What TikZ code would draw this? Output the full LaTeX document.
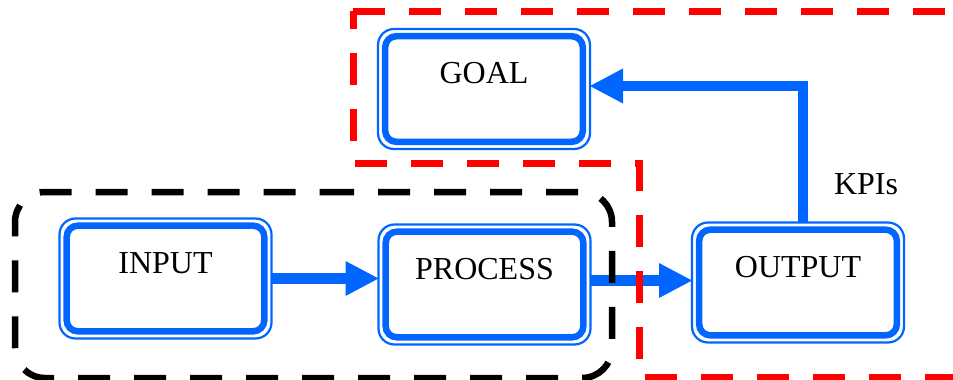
\documentclass[tikz,border=0pt]{standalone}
\usepackage{fontspec}
\setmainfont{Liberation Serif}
\usetikzlibrary{arrows.meta}
\definecolor{bblue}{RGB}{0,102,255}
\definecolor{rred}{RGB}{255,0,0}
\begin{document}
\begin{tikzpicture}[x=1pt,y=-1pt,
  box/.style={draw=bblue, line width=2.2pt, rounded corners=16pt,
    minimum width=212pt, minimum height=120pt, outer sep=0pt, inner sep=0pt,
    font=\fontsize{32}{37}\selectfont, text height=21pt, text depth=32pt},
  innerline/.style={draw=bblue, line width=6.5pt, rounded corners=11pt},
  flow/.style={draw=bblue, line width=10.5pt,
    -{Triangle[length=33pt,width=35pt,line width=0pt]}},
  lbl/.style={font=\fontsize{32}{37}\selectfont, inner sep=0pt},
  blackzone/.style={draw=black, line width=6.5pt, rounded corners=30pt,
    dash pattern=on 32pt off 24pt, dash phase=8pt},
  redzone/.style={draw=rred, line width=7pt, line join=miter,
    dash pattern=on 32pt off 24pt}
]
\useasboundingbox (0,0) rectangle (953,380);

\node[box] (goal) at (484,89) {GOAL};
\node[box] (input) at (165.5,278.5) {INPUT};
\node[box] (process) at (484.5,284.5) {PROCESS};
\node[box] (output) at (798,282.5) {OUTPUT};

\foreach \n in {goal,input,process,output}
  \draw[innerline] ([shift={(7.2pt,-7.2pt)}]\n.north west) rectangle ([shift={(-7.2pt,7.2pt)}]\n.south east);

\draw[flow] (input.east) -- (input.east -| process.west);
\draw[flow] ([yshift=4pt]process.east) -- ([yshift=4pt]process.east -| output.west);
\draw[flow] ([xshift=5pt]output.north) |- ([yshift=3pt]goal.east);

\node[lbl, anchor=base] (kpis) at (866,194) {KPIs};

\draw[blackzone] (300,192) -- (612,192) -- (612,378) -- (15,378) -- (15,192) -- cycle;
\draw[redzone] (353,11) -- (976,11) -- (976,377) -- (639,377) -- (639,163) -- (353,163) -- cycle;
\end{tikzpicture}
\end{document}
